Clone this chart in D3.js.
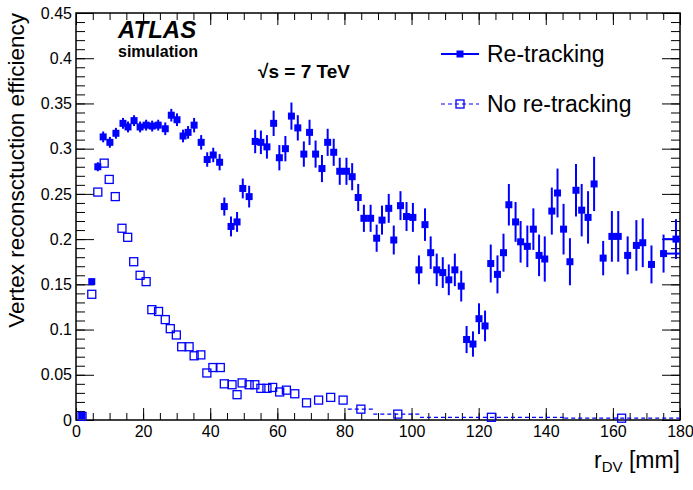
<!DOCTYPE html>
<html>
<head>
<meta charset="utf-8">
<script src="https://cdn.jsdelivr.net/npm/d3@7"></script>
<style>
  body { margin: 0; background: #fff; }
  text { font-family: "Liberation Sans", Arial, sans-serif; }
</style>
</head>
<body>
<div id="chart"></div>
<script>
// re-tracking: radius (mm), efficiency, error
var retrackR = [1.8, 4.7, 6.5, 8.1, 10.1, 11.9, 14.0, 15.5, 17.3, 19.1, 20.9, 22.7, 24.5, 26.6, 28.4, 30.1,
  31.9, 33.4, 35.2, 37.3, 39.1, 40.9, 42.8, 44.2, 46.2, 48.0, 49.7, 51.6, 53.4, 55.1, 56.9, 58.9,
  60.6, 62.4, 64.2, 66.1, 67.9, 69.6, 71.4, 73.3, 75.0, 76.8, 78.6, 80.6, 82.3, 84.1, 85.8, 87.8,
  89.6, 91.2, 93.2, 94.7, 96.7, 98.5, 100.4, 102.2, 104.0, 105.7, 107.5, 109.3, 111.1, 112.9, 114.8, 116.4,
  118.3, 120.1, 121.9, 123.6, 125.6, 127.4, 129.0, 131.0, 132.5, 134.5, 136.3, 138.0, 139.7, 141.8, 143.5, 145.3,
  147.2, 149.0, 150.7, 152.6, 154.4, 157.1, 159.7, 161.6, 164.4, 167.0, 168.9, 171.5, 175.1, 178.8];
var retrackEff = [0.005, 0.153, 0.280, 0.313, 0.307, 0.317, 0.328, 0.324, 0.331, 0.324, 0.326, 0.325, 0.326, 0.322, 0.337, 0.332,
  0.314, 0.318, 0.326, 0.307, 0.288, 0.293, 0.285, 0.236, 0.214, 0.219, 0.256, 0.247, 0.308, 0.307, 0.302, 0.328,
  0.290, 0.300, 0.336, 0.323, 0.294, 0.318, 0.294, 0.278, 0.307, 0.296, 0.275, 0.275, 0.269, 0.246, 0.223, 0.223,
  0.201, 0.221, 0.234, 0.199, 0.237, 0.225, 0.224, 0.166, 0.216, 0.185, 0.166, 0.163, 0.155, 0.166, 0.148, 0.089,
  0.084, 0.112, 0.104, 0.173, 0.161, 0.185, 0.238, 0.219, 0.197, 0.192, 0.211, 0.182, 0.178, 0.231, 0.251, 0.211,
  0.175, 0.254, 0.232, 0.224, 0.261, 0.179, 0.203, 0.203, 0.182, 0.193, 0.196, 0.172, 0.184, 0.200];
var retrackErr = [0.002, 0.003, 0.005, 0.006, 0.006, 0.006, 0.006, 0.006, 0.006, 0.006, 0.006, 0.006, 0.006, 0.007, 0.007, 0.007,
  0.007, 0.007, 0.008, 0.008, 0.008, 0.008, 0.009, 0.010, 0.011, 0.011, 0.011, 0.012, 0.013, 0.013, 0.013, 0.014,
  0.014, 0.014, 0.015, 0.014, 0.014, 0.014, 0.015, 0.015, 0.015, 0.015, 0.015, 0.015, 0.015, 0.015, 0.015, 0.015,
  0.015, 0.016, 0.016, 0.016, 0.016, 0.016, 0.016, 0.016, 0.018, 0.018, 0.018, 0.017, 0.017, 0.018, 0.017, 0.015,
  0.014, 0.017, 0.017, 0.021, 0.021, 0.021, 0.023, 0.022, 0.023, 0.023, 0.023, 0.023, 0.025, 0.026, 0.027, 0.028,
  0.026, 0.029, 0.029, 0.029, 0.030, 0.019, 0.028, 0.028, 0.021, 0.028, 0.027, 0.021, 0.021, 0.022];
// bins wide enough for the x error bar to show
var retrackWideBins = [[174.9, 180]];

// no re-tracking: radius (mm), efficiency
var noRetrackR = [1.8, 4.7, 6.5, 8.4, 9.9, 11.7, 13.7, 15.4, 17.2, 19.1, 20.9, 22.6, 24.6, 26.6, 28.1, 29.9,
  31.5, 33.7, 35.2, 37.2, 39.0, 40.8, 43.0, 44.2, 46.5, 48.0, 49.5, 51.6, 53.3, 55.1, 56.9, 58.6,
  60.7, 62.7, 65.2, 68.7, 72.3, 75.9, 79.6, 84.9, 95.9, 123.8, 162.6];
var noRetrackEff = [0.004, 0.139, 0.252, 0.284, 0.266, 0.247, 0.212, 0.202, 0.175, 0.160, 0.153, 0.122, 0.120, 0.111, 0.101, 0.094,
  0.081, 0.081, 0.071, 0.072, 0.052, 0.058, 0.058, 0.040, 0.039, 0.028, 0.041, 0.039, 0.039, 0.035, 0.035, 0.036,
  0.031, 0.033, 0.029, 0.019, 0.022, 0.025, 0.022, 0.012, 0.0065, 0.003, 0.002];
var noRetrackWideBins = [[81, 88.6], [88.6, 102.5], [102.5, 145.5], [145.5, 180]];

var xTicks = [0, 20, 40, 60, 80, 100, 120, 140, 160, 180];
var yTicks = [0, 0.05, 0.1, 0.15, 0.2, 0.25, 0.3, 0.35, 0.4, 0.45];

var width = 693, height = 490;
var plotLeft = 76, plotRight = 680, plotTop = 13, plotBottom = 420;
var blue = '#0000ff';

var svg = d3.select('#chart').append('svg')
  .attr('width', width)
  .attr('height', height);

var x = d3.scaleLinear().domain([0, 180]).range([plotLeft, plotRight]);
var y = d3.scaleLinear().domain([0, 0.45]).range([plotBottom, plotTop]);

function findBin(bins, r) {
  for (var i = 0; i < bins.length; i++) {
    if (r >= bins[i][0] && r <= bins[i][1]) return bins[i];
  }
  return null;
}

var retrack = retrackR.map(function(r, i) {
  return { r: r, v: retrackEff[i], e: retrackErr[i], bin: findBin(retrackWideBins, r) };
});
var noRetrack = noRetrackR.map(function(r, i) {
  return { r: r, v: noRetrackEff[i], bin: findBin(noRetrackWideBins, r) };
});

// axes, ticks point inwards like ROOT
var xMinor = d3.range(0, 181, 5);
var yMinor = d3.range(0, 0.4501, 0.01);

function styleAxis(g) {
  g.select('.domain').remove();
  g.selectAll('line').attr('stroke', '#000').attr('stroke-width', 1);
  g.selectAll('text').attr('font-size', 16).attr('fill', '#000');
}

svg.append('g').attr('transform', 'translate(0,' + plotBottom + ')')
  .call(d3.axisBottom(x).tickValues(xMinor).tickSize(-7).tickFormat(''))
  .call(styleAxis);
svg.append('g').attr('transform', 'translate(0,' + plotBottom + ')')
  .call(d3.axisBottom(x).tickValues(xTicks).tickSize(-12).tickPadding(6).tickFormat(d3.format('d')))
  .call(styleAxis);
svg.append('g').attr('transform', 'translate(0,' + plotTop + ')')
  .call(d3.axisTop(x).tickValues(xMinor).tickSize(-7).tickFormat(''))
  .call(styleAxis);
svg.append('g').attr('transform', 'translate(0,' + plotTop + ')')
  .call(d3.axisTop(x).tickValues(xTicks).tickSize(-12).tickFormat(''))
  .call(styleAxis);

svg.append('g').attr('transform', 'translate(' + plotLeft + ',0)')
  .call(d3.axisLeft(y).tickValues(yMinor).tickSize(-9).tickFormat(''))
  .call(styleAxis);
svg.append('g').attr('transform', 'translate(' + plotLeft + ',0)')
  .call(d3.axisLeft(y).tickValues(yTicks).tickSize(-18).tickPadding(4).tickFormat(function(d) { return d === 0 ? '0' : d3.format('.3~f')(d); }))
  .call(styleAxis);
svg.append('g').attr('transform', 'translate(' + plotRight + ',0)')
  .call(d3.axisRight(y).tickValues(yMinor).tickSize(-9).tickFormat(''))
  .call(styleAxis);
svg.append('g').attr('transform', 'translate(' + plotRight + ',0)')
  .call(d3.axisRight(y).tickValues(yTicks).tickSize(-18).tickFormat(''))
  .call(styleAxis);

svg.append('rect')
  .attr('x', plotLeft).attr('y', plotTop)
  .attr('width', plotRight - plotLeft).attr('height', plotBottom - plotTop)
  .attr('fill', 'none').attr('stroke', '#000').attr('stroke-width', 1.5);

// no re-tracking: dashed x error bars on wide bins + open squares
svg.selectAll('line.xerr-open').data(noRetrack.filter(function(d) { return d.bin; }))
  .enter().append('line')
  .attr('class', 'xerr-open')
  .attr('x1', function(d) { return x(d.bin[0]); })
  .attr('x2', function(d) { return x(d.bin[1]); })
  .attr('y1', function(d) { return y(d.v); })
  .attr('y2', function(d) { return y(d.v); })
  .attr('stroke', blue)
  .attr('stroke-width', 1.2)
  .attr('stroke-dasharray', '4,3');

svg.selectAll('rect.open').data(noRetrack)
  .enter().append('rect')
  .attr('class', 'open')
  .attr('x', function(d) { return x(d.r) - 4; })
  .attr('y', function(d) { return y(d.v) - 4; })
  .attr('width', 8).attr('height', 8)
  .attr('fill', 'none')
  .attr('stroke', blue)
  .attr('stroke-width', 1.3);

// re-tracking: error bars + filled squares
svg.selectAll('line.err').data(retrack)
  .enter().append('line')
  .attr('class', 'err')
  .attr('x1', function(d) { return x(d.r); })
  .attr('x2', function(d) { return x(d.r); })
  .attr('y1', function(d) { return y(d.v - d.e); })
  .attr('y2', function(d) { return y(d.v + d.e); })
  .attr('stroke', blue)
  .attr('stroke-width', 2);

svg.selectAll('line.xerr').data(retrack.filter(function(d) { return d.bin; }))
  .enter().append('line')
  .attr('class', 'xerr')
  .attr('x1', function(d) { return x(d.bin[0]); })
  .attr('x2', function(d) { return x(d.bin[1]); })
  .attr('y1', function(d) { return y(d.v); })
  .attr('y2', function(d) { return y(d.v); })
  .attr('stroke', blue)
  .attr('stroke-width', 2);

svg.selectAll('rect.filled').data(retrack)
  .enter().append('rect')
  .attr('class', 'filled')
  .attr('x', function(d) { return x(d.r) - 3.5; })
  .attr('y', function(d) { return y(d.v) - 3.5; })
  .attr('width', 7).attr('height', 7)
  .attr('fill', blue);

// axis titles
svg.append('text')
  .attr('transform', 'translate(24,' + plotTop + ') rotate(-90)')
  .attr('text-anchor', 'end')
  .attr('font-size', 22.5)
  .text('Vertex reconsctuction efficiency');

var xt = svg.append('text')
  .attr('x', plotRight).attr('y', 468)
  .attr('text-anchor', 'end')
  .attr('font-size', 23);
xt.append('tspan').text('r');
xt.append('tspan').attr('font-size', 15).attr('dy', 4).text('DV');
xt.append('tspan').attr('dy', -4).text(' [mm]');

// labels
svg.append('text')
  .attr('x', 118).attr('y', 38)
  .attr('font-size', 24).attr('font-weight', 'bold').attr('font-style', 'italic')
  .text('ATLAS');
svg.append('text')
  .attr('x', 118).attr('y', 57)
  .attr('font-size', 16).attr('font-weight', 'bold')
  .text('simulation');
svg.append('text')
  .attr('x', 258).attr('y', 78)
  .attr('font-size', 19).attr('font-weight', 'bold')
  .text('\u221As = 7 TeV');

// legend
var legend = svg.append('g');
legend.append('line')
  .attr('x1', 441).attr('x2', 479).attr('y1', 54).attr('y2', 54)
  .attr('stroke', blue).attr('stroke-width', 2);
legend.append('rect')
  .attr('x', 456.5).attr('y', 50.5).attr('width', 7).attr('height', 7)
  .attr('fill', blue);
legend.append('text')
  .attr('x', 487).attr('y', 62)
  .attr('font-size', 23)
  .text('Re-tracking');
legend.append('line')
  .attr('x1', 441).attr('x2', 479).attr('y1', 104).attr('y2', 104)
  .attr('stroke', blue).attr('stroke-width', 1.2).attr('stroke-dasharray', '4,3');
legend.append('rect')
  .attr('x', 456).attr('y', 100).attr('width', 8).attr('height', 8)
  .attr('fill', 'none').attr('stroke', blue).attr('stroke-width', 1.3);
legend.append('text')
  .attr('x', 487).attr('y', 112)
  .attr('font-size', 23)
  .text('No re-tracking');
</script>
</body>
</html>
